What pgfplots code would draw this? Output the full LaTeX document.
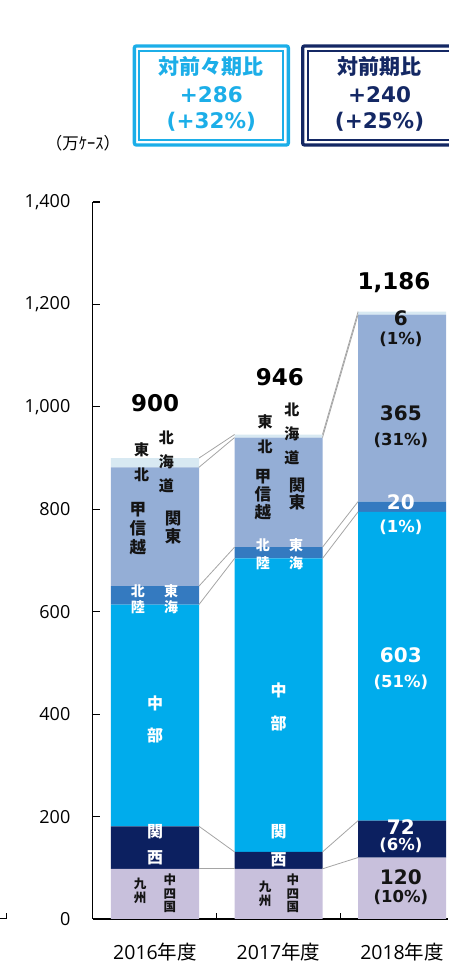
\documentclass[border=0pt]{standalone}
\usepackage{fontspec}
\setmainfont{Open Sans}
\newfontfamily\jp{Noto Sans CJK JP}
\newfontfamily\dvs{DejaVu Sans}
\usepackage{pgfplots}
\pgfplotsset{compat=1.18}
\usepackage{pgfplotstable}

\definecolor{cKyu}{RGB}{200,192,220}
\definecolor{cKan}{RGB}{12,32,96}
\definecolor{cChu}{RGB}{0,172,236}
\definecolor{cHok}{RGB}{52,122,192}
\definecolor{cKto}{RGB}{148,174,214}
\definecolor{cToh}{RGB}{216,233,242}
\definecolor{cLine}{RGB}{165,165,165}
\definecolor{cBox1}{RGB}{28,174,232}
\definecolor{cBox2}{RGB}{20,40,100}
\definecolor{cTxt}{RGB}{20,20,20}

% segment values (万ケース)
\pgfplotstableread{
x kyu kan chu hok kto toh
0 98 83 433 36 232 18
1 98 33 573 22 214 6
2 120 72 603 20 365 6
}\shares

\pgfplotsset{
  base/.style={at={(92.5pt,46pt)}, anchor=south west, scale only axis,
    width=355.5pt, height=717pt, xmin=-0.506, xmax=2.372, ymin=0, ymax=1400, clip=false},
}
\tikzset{
  vc/.style n args={2}{font=\jp\bfseries\fontsize{#1}{#2}\selectfont, align=center, inner sep=0pt, text=cTxt},
  vw/.style n args={2}{font=\jp\bfseries\fontsize{#1}{#2}\selectfont, align=center, inner sep=0pt, text=white},
  val/.style={font=\dvs\bfseries\fontsize{20}{22}\selectfont, inner sep=0pt},
  pct/.style={font=\dvs\bfseries\fontsize{16.5}{18}\selectfont, inner sep=0pt},
  tot/.style={font=\dvs\bfseries\fontsize{23}{25}\selectfont, inner sep=0pt, text=black},
}

\begin{document}
\begin{tikzpicture}[x=1pt,y=1pt]
\useasboundingbox (0,0) rectangle (448,965);

% comparison boxes
\draw[cBox1, line width=3.3pt, rounded corners=2pt] (134.35,919.05) rectangle (288.35,819.95);
\draw[cBox1, line width=2pt] (139.4,914) rectangle (283.3,825);
\node[font=\jp\bfseries\fontsize{21}{24}\selectfont, text=cBox1] at (211.3,898.3) {対前々期比};
\node[font=\dvs\bfseries\fontsize{21.5}{24}\selectfont, text=cBox1] at (211.3,870) {+286};
\node[font=\dvs\bfseries\fontsize{21.5}{24}\selectfont, text=cBox1] at (211.3,843.3) {(+32\%)};

\draw[cBox2, line width=3.3pt, rounded corners=2pt] (302.65,919.05) rectangle (457.35,819.95);
\draw[cBox2, line width=2pt] (307.7,914) rectangle (452.3,825);
\node[font=\jp\bfseries\fontsize{21}{24}\selectfont, text=cBox2] at (379.5,898.3) {対前期比};
\node[font=\dvs\bfseries\fontsize{21.5}{24}\selectfont, text=cBox2] at (379.5,870) {+240};
\node[font=\dvs\bfseries\fontsize{21.5}{24}\selectfont, text=cBox2] at (379.5,843.3) {(+25\%)};

\node[font=\jp\fontsize{16.5}{18}\selectfont] at (83,822) {（万ｹｰｽ）};
\draw[line width=1pt] (0,46) -- (6,46) -- (6,52);

\begin{axis}[base, ybar stacked, bar width=0.7126,
  axis x line*=bottom, axis y line*=left,
  axis line style={line width=1.2pt, black},
  tick align=inside, major tick length=7pt,
  tick style={line width=1.2pt, black},
  ytick={0,200,...,1400},
  yticklabel style={font=\fontsize{18}{20}\selectfont, anchor=east, inner sep=0pt, xshift=-22pt},
  /pgf/number format/.cd, 1000 sep={,}, assume math mode=true, /pgfplots/.cd,
  xtick={0,1,2},
  xtick style={draw=none},
  xticklabels={2016{\jp 年度},2017{\jp 年度},2018{\jp 年度}},
  xticklabel style={font=\fontsize{19.5}{21}\selectfont, anchor=base, inner sep=0pt, yshift=-40.5pt},
]
\addplot[fill=cKyu, draw=none] table[x=x, y=kyu] {\shares};
\addplot[fill=cKan, draw=none] table[x=x, y=kan] {\shares};
\addplot[fill=cChu, draw=none] table[x=x, y=chu] {\shares};
\addplot[fill=cHok, draw=none] table[x=x, y=hok] {\shares};
\addplot[fill=cKto, draw=none] table[x=x, y=kto] {\shares};
\addplot[fill=cToh, draw=none] table[x=x, y=toh] {\shares};
\end{axis}

\begin{axis}[base, hide axis]
% category separator ticks
\addplot[black, line width=1.2pt] coordinates {(0.5,0) (0.5,12)};
\addplot[black, line width=1.2pt] coordinates {(1.5,0) (1.5,12)};
% connectors 2016 -> 2017
\addplot[cLine, line width=0.8pt] coordinates {(0.356,98) (0.644,98)};
\addplot[cLine, line width=0.8pt] coordinates {(0.356,181) (0.644,131)};
\addplot[cLine, line width=0.8pt] coordinates {(0.356,614) (0.644,704)};
\addplot[cLine, line width=0.8pt] coordinates {(0.356,650) (0.644,726)};
\addplot[cLine, line width=0.8pt] coordinates {(0.356,882) (0.644,940)};
\addplot[cLine, line width=0.8pt] coordinates {(0.356,900) (0.644,946)};
% connectors 2017 -> 2018
\addplot[cLine, line width=0.8pt] coordinates {(1.356,98) (1.644,120)};
\addplot[cLine, line width=0.8pt] coordinates {(1.356,131) (1.644,192)};
\addplot[cLine, line width=0.8pt] coordinates {(1.356,704) (1.644,795)};
\addplot[cLine, line width=0.8pt] coordinates {(1.356,726) (1.644,815)};
\addplot[cLine, line width=0.8pt] coordinates {(1.356,940) (1.644,1180)};
\addplot[cLine, line width=0.8pt] coordinates {(1.356,946) (1.644,1186)};

% 2016 labels
\node[tot] at (0,1008) {900};
\node[vc={15}{25}] at (-0.108,891) {東\\北};
\node[vc={15}{24}] at (0.093,892) {北\\海\\道};
\node[vc={16.5}{19}] at (-0.138,762) {甲\\信\\越};
\node[vc={16.5}{18}] at (0.146,764) {関\\東};
\node[vw={14}{16}] at (-0.138,625) {北\\陸};
\node[vw={14}{16}] at (0.13,625) {東\\海};
\node[vw={16}{32}] at (0,390.5) {中\\部};
\node[vw={16}{26}] at (0,144.5) {関\\西};
\node[vc={12.5}{14}] at (-0.121,54.7) {九\\州};
\node[vc={12.5}{13.5}] at (0.121,49.8) {中\\四\\国};

% 2017 labels
\node[tot] at (1.01,1058) {946};
\node[vc={15}{25}] at (0.891,946) {東\\北};
\node[vc={15}{24}] at (1.109,948) {北\\海\\道};
\node[vc={16.5}{18}] at (0.874,828) {甲\\信\\越};
\node[vc={16.5}{17}] at (1.15,830) {関\\東};
\node[vw={14}{18}] at (0.874,712.7) {北\\陸};
\node[vw={14}{18}] at (1.142,712.7) {東\\海};
\node[vw={16}{33}] at (1,415) {中\\部};
\node[vw={16}{28}] at (1,142.5) {関\\西};
\node[vc={12.5}{14}] at (0.891,49.8) {九\\州};
\node[vc={12.5}{13.5}] at (1.117,49.8) {中\\四\\国};

% 2018 labels
\node[tot] at (1.935,1242) {1,186};
\node[val, text=cTxt] at (1.99,1174) {6};
\node[pct, text=cTxt] at (1.99,1131) {(1\%)};
\node[val, text=cTxt] at (1.99,988) {365};
\node[pct, text=cTxt] at (1.99,935) {(31\%)};
\node[val, text=white] at (1.99,814) {20};
\node[pct, text=white] at (1.99,765) {(1\%)};
\node[val, text=white] at (1.99,515) {603};
\node[pct, text=white] at (1.99,463) {(51\%)};
\node[val, text=white] at (1.99,180) {72};
\node[pct, text=white] at (1.99,144.5) {(6\%)};
\node[val, text=cTxt] at (1.99,82) {120};
\node[pct, text=cTxt] at (1.99,43) {(10\%)};
\end{axis}
\end{tikzpicture}
\end{document}
